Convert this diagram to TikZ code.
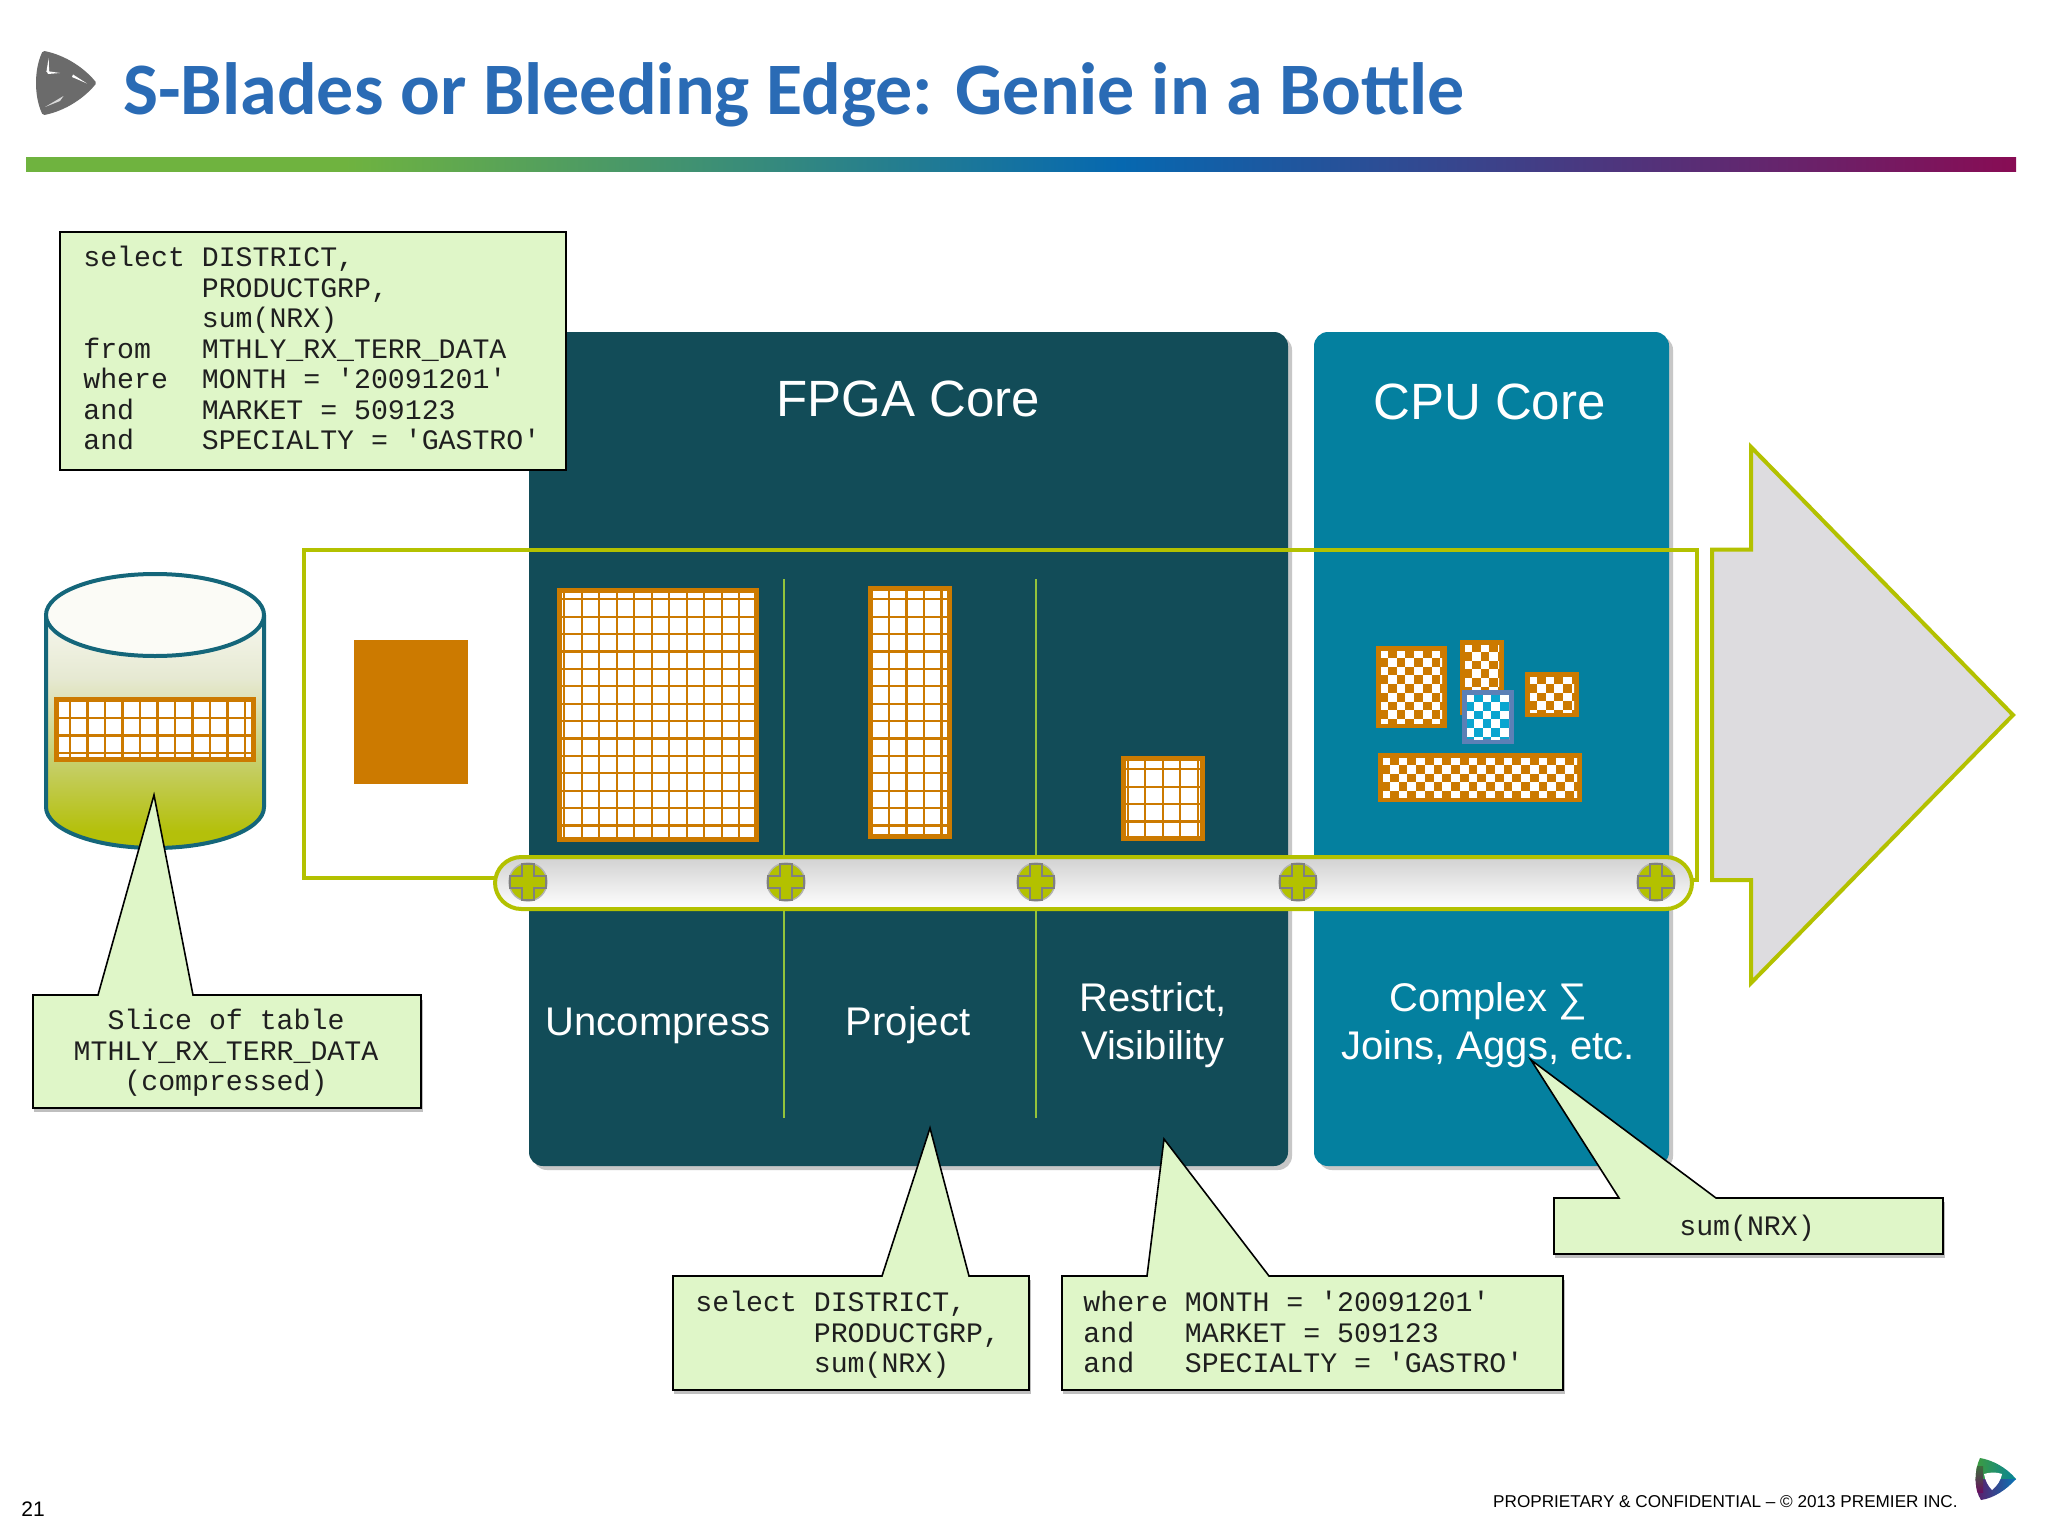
\documentclass[tikz,border=0pt]{standalone}
\usepackage{fontspec}
\setmainfont{Liberation Sans}
\newfontfamily\monof{Liberation Mono}
\newfontfamily\titlef{Carlito}[BoldFont=Carlito Bold]
\definecolor{olv}{HTML}{B3C100}
\definecolor{lanec}{HTML}{93C33B}
\definecolor{org}{HTML}{CC7A00}
\definecolor{dkcore}{HTML}{124C58}
\definecolor{cpucore}{HTML}{04809F}
\definecolor{note}{HTML}{DFF6C8}
\definecolor{ttl}{HTML}{2A6BB5}
\definecolor{teal}{HTML}{14667A}
\definecolor{barg}{RGB}{111,179,63}
\definecolor{barb}{RGB}{6,104,176}
\definecolor{barm}{RGB}{136,12,84}
\definecolor{edgeb}{RGB}{92,128,182}
\definecolor{cellb}{RGB}{10,165,208}
\definecolor{arrowf}{RGB}{221,220,223}
\definecolor{lgreen}{RGB}{70,160,50}
\definecolor{lteal}{RGB}{0,130,160}
\definecolor{lpurple}{RGB}{105,15,95}
\definecolor{lblue}{RGB}{0,125,190}
\definecolor{ldark}{RGB}{60,110,60}
\definecolor{cylA}{HTML}{FBFBF6}
\definecolor{cylB}{HTML}{F2F3E6}
\definecolor{cylC}{HTML}{E6E9D2}
\definecolor{cylD}{HTML}{C8D074}
\definecolor{cylE}{HTML}{B4C00A}
\pgfdeclarehorizontalshading{barshade}{100bp}{color(0bp)=(barg);color(25bp)=(barg);color(33bp)=(barg);color(52.5bp)=(barb);color(75bp)=(barm);color(100bp)=(barm)}
\pgfdeclareverticalshading{cylshade}{100bp}{color(0bp)=(cylE);color(25bp)=(cylE);color(28bp)=(cylE);color(42bp)=(cylD);color(56bp)=(cylC);color(64bp)=(cylB);color(75bp)=(cylA);color(100bp)=(cylA)}
\tikzset{
  x=0.5pt,y=-0.5pt,
  code/.style={font=\monof\fontsize{14.1}{15.25}\selectfont,inner sep=0pt,align=left,text=black!88},
  codec/.style={code,align=center},
  lbl/.style={font=\fontsize{20}{24}\selectfont,text=white,inner sep=0pt,align=center},
  big/.style={font=\fontsize{25.5}{30}\selectfont,text=white,inner sep=0pt},
  note box/.style={draw=black,line width=0.8pt,fill=note,line join=miter},
  note shadow/.style={fill=black!25,draw=none},
  lane/.style={draw=lanec,line width=1pt},
  hoop/.style={draw=olv,line width=2pt},
}
% grid block: outer x0,y0,x1,y1, offset of first vertical and first horizontal line
\newcommand{\gridblock}[6]{%
  \fill[white] (#1,#2) rectangle (#3,#4);
  \begin{scope}
    \clip (#1,#2) rectangle (#3,#4);
    \pgfmathsetmacro{\gxa}{#1+#5}\pgfmathsetmacro{\gxb}{#1+#5+17.5}
    \foreach \gx in {\gxa,\gxb,...,#3} \draw[org,line width=1.1pt] (\gx,#2) -- (\gx,#4);
    \pgfmathsetmacro{\gya}{#2+#6}\pgfmathsetmacro{\gyb}{#2+#6+17.4}
    \foreach \gy in {\gya,\gyb,...,#4} \draw[org,line width=1.1pt] (#1,\gy) -- (#3,\gy);
  \end{scope}
  \draw[org,line width=2.4pt] (#1+2.4,#2+2.4) rectangle (#3-2.4,#4-2.4);}
% checker block
\newcommand{\checkblock}[7]{%
  \fill[#5] (#1,#2) rectangle (#3,#4);
  \begin{scope}
    \clip (#1+5,#2+5) rectangle (#3-5,#4-5);
    \fill[#6] (#1+5,#2+5) rectangle (#3-5,#4-5);
    \foreach \ci in {0,...,#7} \foreach \cj in {0,...,12} {
      \pgfmathtruncatemacro{\cp}{mod(\ci+\cj,2)}
      \ifnum\cp=0
        \fill[white] ({#1+3+\ci*8.75},{#2+3+\cj*8.75}) rectangle +(8.75,8.75);
      \fi}
  \end{scope}}
\newcommand{\screw}[1]{%
  \begin{scope}[shift={(#1,882)}]
    \fill[olv] (0,0) circle (9.5pt);
    \draw[black!30,line width=0.7pt] (0,0) circle (9.5pt);
    \draw[black!50,fill=olv,line width=0.8pt] (-6,-18) -- (6,-18) -- (6,-6) -- (18,-6) -- (18,6) -- (6,6) -- (6,18) -- (-6,18) -- (-6,6) -- (-18,6) -- (-18,-6) -- (-6,-6) -- cycle;
  \end{scope}}
\begin{document}
\begin{tikzpicture}
\useasboundingbox (0,0) rectangle (2048,1536);
\fill[white] (0,0) rectangle (2048,1536);

% ---- title, bar, logo
\node[anchor=base west,inner sep=0pt,text=ttl,font=\titlef\bfseries\fontsize{37}{44}\selectfont] (title) at (123,114.5) {S-Blades or Bleeding Edge: Genie in a Bottle};
\shade[shading=barshade] (26,157) rectangle (2016,171);

\filldraw[black!58,line width=2pt,line join=round] (44,53) .. controls (60,56) and (80,66) .. (94,83) .. controls (80,100) and (60,110) .. (44,113) .. controls (36,96) and (36,70) .. cycle;
\fill[white] (48.6,58) -- (49.2,72) -- (46.4,72) -- cycle;
\fill[white] (46.5,71) -- (60,73) -- (48,74) -- cycle;
\fill[white!85!black] (45,107) -- (63.5,96) -- (60,101) -- cycle;
\fill[white] (73,74.5) -- (87,83.5) -- (72,77) -- cycle;

% ---- core panels
\fill[black!22,rounded corners=7pt] (533,336) rectangle (1292,1170);
\fill[black!22,rounded corners=7pt] (1318,336) rectangle (1673,1170);
\fill[dkcore,rounded corners=7pt] (529,332) rectangle (1288,1166);
\fill[cpucore,rounded corners=7pt] (1314,332) rectangle (1669,1166);
\draw[lane] (784,579) -- (784,1118);
\draw[lane] (1036,579) -- (1036,1118);

\node[big] (fpga) at (908,399) {FPGA Core};
\node[big] (cpu) at (1489.5,402) {CPU Core};

% ---- outer frame and arrow
\draw[hoop,line join=miter] (500,878) -- (304,878) -- (304,549.5) -- (1697,549.5) -- (1697,880) -- (1688,880);
\draw[hoop,fill=arrowf,line join=miter] (1712,880) -- (1751,880) -- (1751,983) -- (2013,715) -- (1751,447) -- (1751,549.5) -- (1712,549.5) -- cycle;

% ---- blocks
\fill[org] (354,640) rectangle (468,784);
\gridblock{557}{588}{759}{842}{7.3}{11.3}
\gridblock{868}{586}{952}{839}{21}{13.3}
\gridblock{1121}{756}{1205}{841}{6.7}{13.3}

\checkblock{1460}{640}{1504}{715}{org}{org}{4}
\checkblock{1376}{646}{1447}{728}{org}{org}{8}
\checkblock{1525}{672}{1579}{717}{org}{org}{6}
\checkblock{1378}{753}{1582}{802}{org}{org}{23}
\checkblock{1462}{690}{1514}{744}{edgeb}{cellb}{6}

% ---- cylinder
\shade[shading=cylshade]
  (46,615) -- (46,807) arc[start angle=180,end angle=360,x radius=109,y radius=-41] -- (264,615) arc[start angle=0,end angle=180,x radius=109,y radius=-41] -- cycle;
\draw[teal,line width=2pt] (46,615) -- (46,807) arc[start angle=180,end angle=360,x radius=109,y radius=-41] -- (264,615);
\draw[teal,line width=2pt,fill=cylA] (155,615) ellipse[x radius=109,y radius=41];
\gridblock{54}{697}{256}{762}{16}{21}

% ---- conveyor
\shade[top color=black!18,bottom color=white,rounded corners=13.2pt] (495,857) rectangle (1692,909);
\draw[hoop,rounded corners=13.2pt] (495,857) rectangle (1692,909);
\screw{528}\screw{786}\screw{1036}\screw{1298}\screw{1656}

% ---- labels in panels
\node[lbl,anchor=base] (unc) at (658,1035) {Uncompress};
\node[lbl,anchor=base] (prj) at (908,1035) {Project};
\node[lbl,anchor=base] (res1) at (1153,1011) {Restrict,};
\node[lbl,anchor=base] (res2) at (1153,1059) {Visibility};
\node[lbl,anchor=base] (cpx1) at (1488,1011) {Complex ∑};
\node[lbl,anchor=base] (cpx2) at (1488,1059) {Joins, Aggs, etc.};

% ---- callouts
\draw[note box] (60,232) rectangle (566,470);
\node[code,anchor=north west] (sql) at (83,246) {select DISTRICT,\\
~~~~~~~PRODUCTGRP,\\
~~~~~~~sum(NRX)\\
from~~~MTHLY\_RX\_TERR\_DATA\\
where~~MONTH = '20091201'\\
and~~~~MARKET = 509123\\
and~~~~SPECIALTY = 'GASTRO'};

\fill[note shadow] (34,1000) rectangle (423,1112);
\draw[note box] (33,995) -- (98,995) -- (154,795) -- (193,995) -- (421,995) -- (421,1108) -- (33,1108) -- cycle;
\node[codec,anchor=north] (slice) at (226,1009) {Slice of table\\MTHLY\_RX\_TERR\_DATA\\(compressed)};

\fill[note shadow] (674,1280) rectangle (1031,1394);
\draw[note box] (673,1276) -- (882,1276) -- (930,1128) -- (969,1276) -- (1029,1276) -- (1029,1390) -- (673,1390) -- cycle;
\node[code,anchor=north west] (sel) at (695,1291) {select DISTRICT,\\
~~~~~~~PRODUCTGRP,\\
~~~~~~~sum(NRX)};

\fill[note shadow] (1063,1280) rectangle (1565,1394);
\draw[note box] (1062,1276) -- (1147,1276) -- (1164,1139) -- (1269,1276) -- (1563,1276) -- (1563,1390) -- (1062,1390) -- cycle;
\node[code,anchor=north west] (whr) at (1083,1291) {where MONTH = '20091201'\\
and~~~MARKET = 509123\\
and~~~SPECIALTY = 'GASTRO'};

\fill[note shadow] (1555,1202) rectangle (1945,1258);
\draw[note box] (1554,1198) -- (1619,1198) -- (1531,1060) -- (1716,1198) -- (1943,1198) -- (1943,1254) -- (1554,1254) -- cycle;
\node[code,anchor=base] (sum) at (1747,1235) {sum(NRX)};

% ---- footer
\node[anchor=base west,inner sep=0pt,font=\fontsize{10.5}{12}\selectfont] (pg) at (21,1516) {21};
\node[anchor=base east,inner sep=0pt,font=\fontsize{8.57}{11}\selectfont] (foot) at (1958,1507) {PROPRIETARY \& CONFIDENTIAL – © 2013 PREMIER INC.};

% small logo
\begin{scope}
  \clip (1980,1458) .. controls (1992,1460) and (2006,1467) .. (2016,1479) .. controls (2006,1490) and (1994,1498) .. (1981,1500) .. controls (1974,1490) and (1974,1470) .. cycle;
  \shade[left color=lgreen,right color=lteal] (1970,1450) rectangle (2020,1479);
  \shade[left color=lpurple,right color=lblue] (1970,1479) rectangle (2020,1505);
  \shade[top color=ldark,bottom color=lpurple] (1970,1466) rectangle (1983,1492);
\end{scope}
\fill[white] (1984,1474) .. controls (1990,1472) and (1997,1472) .. (2002,1474) .. controls (2001,1480) and (1997,1486) .. (1992,1490) .. controls (1988,1486) and (1985,1480) .. cycle;
\end{tikzpicture}
\end{document}
